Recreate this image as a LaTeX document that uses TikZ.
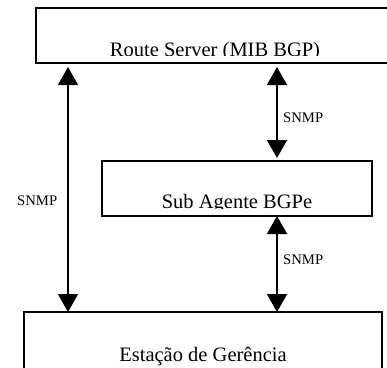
\documentclass[tikz,border=0pt]{standalone}
\usepackage{fontspec}
\setmainfont{Liberation Serif}
\usetikzlibrary{arrows.meta}
\begin{document}
\begin{tikzpicture}[x=1pt,y=-1pt,
  box/.style={draw,line width=1.6pt,inner sep=0pt,outer sep=0pt},
  title/.style={font=\fontsize{20.5}{24}\selectfont,anchor=base,inner sep=0pt},
  lbl/.style={font=\fontsize{14.7}{17}\selectfont,anchor=base west,inner sep=0pt},
  link/.style={line width=1.6pt,{Triangle[width=20pt,length=18pt]}-{Triangle[width=20pt,length=18pt]}}]
\useasboundingbox (0,0) rectangle (387,367);
\clip (0,0) rectangle (387,367);
% boxes
\node[box,minimum width=358pt,minimum height=55pt] (rs) at (215,35.5) {};
\node[box,minimum width=270pt,minimum height=55pt] (sa) at (237,188.5) {};
\node[box,minimum width=358pt,minimum height=120pt] (eg) at (203,372) {};
% texts (clipped as in the original)
\begin{scope}
  \clip (rs.north west) rectangle ([yshift=7.5pt]rs.south east);
  \node[title] (rst) at (215,56) {Route Server (MIB BGP)};
\end{scope}
\begin{scope}
  \clip (sa.north west) rectangle ([yshift=7.5pt]sa.south east);
  \node[title] (sat) at (237,208.5) {Sub Agente BGPe};
\end{scope}
\node[title] (egt) at (203,361.6) {Estação de Gerência};
% connectors
\coordinate (lx) at (68,0);
\coordinate (rx) at (277,0);
\draw[link,shorten <=4pt] (lx |- rs.south) -- (lx |- eg.north);
\draw[link,shorten <=4pt,shorten >=3pt] (rx |- rs.south) -- (rx |- sa.north);
\draw[link] (rx |- sa.south) -- (rx |- eg.north);
% labels
\node[lbl] (l1) at (283,122) {SNMP};
\node[lbl] (l2) at (17,205) {SNMP};
\node[lbl] (l3) at (283,264) {SNMP};
\end{tikzpicture}
\end{document}
